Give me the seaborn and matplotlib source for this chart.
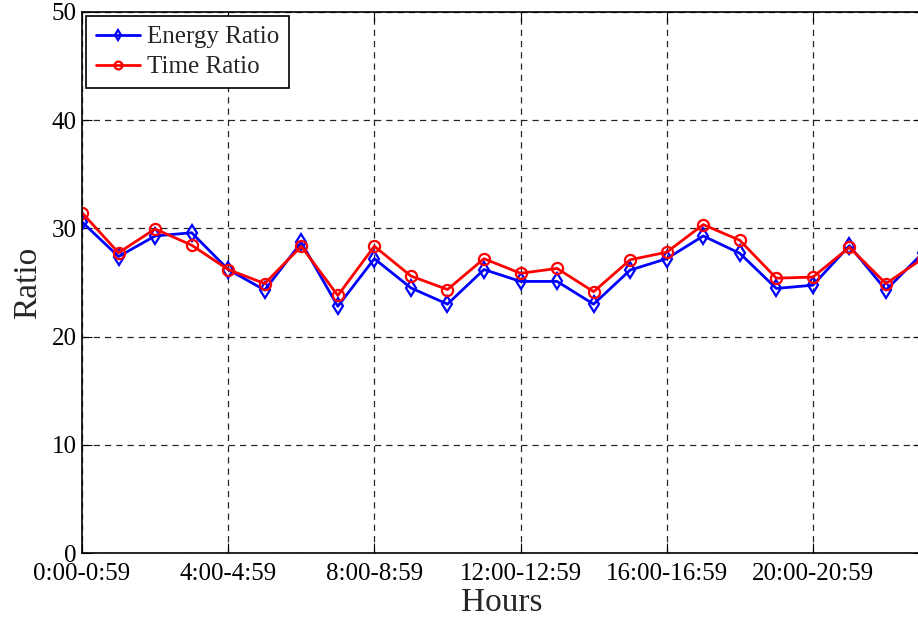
import numpy as np
import pandas as pd
import matplotlib
matplotlib.use("Agg")
import matplotlib.pyplot as plt
import seaborn as sns

# Hourly ratios, hour index 0..23
hours = list(range(24))
energy_ratio = [30.6, 27.4, 29.3, 29.6, 26.2, 24.3, 28.7, 22.8, 27.2, 24.5, 23.0, 26.2,
                25.1, 25.1, 23.0, 26.15, 27.2, 29.3, 27.7, 24.45, 24.75, 28.4, 24.3, 27.7]
time_ratio = [31.45, 27.75, 29.95, 28.45, 26.2, 24.9, 28.35, 23.8, 28.35, 25.6, 24.35, 27.2,
              25.85, 26.3, 24.15, 27.1, 27.8, 30.35, 28.9, 25.4, 25.5, 28.25, 24.9, 27.2]
xtick_pos = [0, 4, 8, 12, 16, 20]
xtick_labels = ["0:00-0:59", "4:00-4:59", "8:00-8:59", "12:00-12:59", "16:00-16:59", "20:00-20:59"]
yticks = [0, 10, 20, 30, 40, 50]

sns.set_style("ticks")
plt.rcParams["font.family"] = ["Liberation Serif", "DejaVu Serif"]

fig = plt.figure(figsize=(9.18, 6.18), dpi=100)
ax = fig.add_axes([82 / 918, 1 - 553 / 618, (922.5 - 82) / 918, (553 - 12) / 618])

df_e = pd.DataFrame({"hour": hours, "ratio": energy_ratio})
df_t = pd.DataFrame({"hour": hours, "ratio": time_ratio})

sns.lineplot(data=df_e, x="hour", y="ratio", ax=ax, color="#0000ff", marker="d",
             markersize=8, markerfacecolor="none", markeredgecolor="#0000ff",
             markeredgewidth=1.6, linewidth=2, label="Energy Ratio")
sns.lineplot(data=df_t, x="hour", y="ratio", ax=ax, color="#ff0000", marker="o",
             markersize=8, markerfacecolor="none", markeredgecolor="#ff0000",
             markeredgewidth=1.6, linewidth=2, label="Time Ratio")

ax.set_xlim(0, 23)
ax.set_ylim(0, 50)
ax.set_xticks(xtick_pos)
ax.set_xticklabels(xtick_labels)
ax.set_yticks(yticks)
ax.tick_params(axis="both", direction="in", labelsize=18, length=7, width=0.8,
               top=True, right=True, colors="black")
ax.tick_params(axis="x", pad=7)
ax.tick_params(axis="y", pad=4)
ax.grid(True, color="black", linestyle=(0, (5, 4)), linewidth=0.9, alpha=0.85)
for s in ax.spines.values():
    s.set_color("black")
    s.set_linewidth(1.2)

ax.set_xlabel("Hours", fontsize=24, labelpad=2)
ax.set_ylabel("Ratio", fontsize=24, labelpad=6)

leg = ax.legend(loc="upper left", fontsize=18, fancybox=False, framealpha=1,
                edgecolor="black", borderaxespad=0.15, handlelength=1.75,
                borderpad=0.4, labelspacing=0.3, handletextpad=0.3, markerscale=0.7)
leg.get_frame().set_linewidth(1.2)

fig.savefig("out.png", dpi=100)
